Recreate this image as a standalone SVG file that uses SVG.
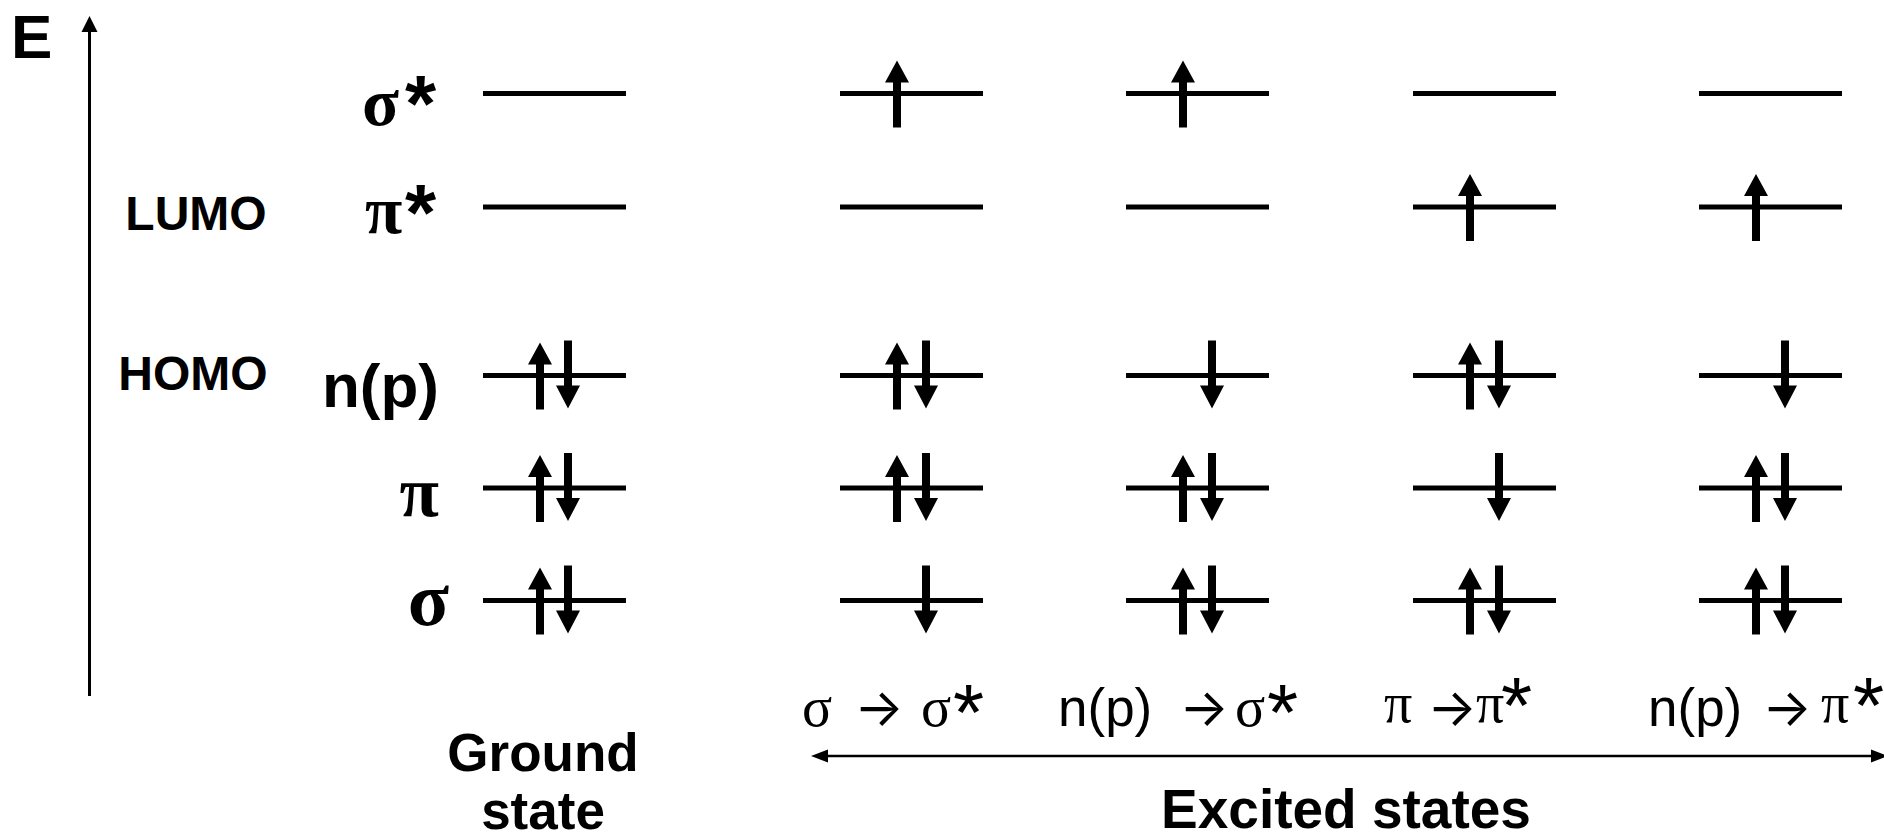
<svg xmlns="http://www.w3.org/2000/svg" width="1884" height="839" viewBox="0 0 1884 839">
<style>
.bar{fill:#000}
.sb{font-family:"Liberation Sans",Arial,sans-serif;font-weight:bold;fill:#000}
.gb{font-family:"Liberation Serif","Times New Roman",serif;font-weight:bold;fill:#000}
.sr{font-family:"Liberation Sans",Arial,sans-serif;fill:#000}
.gr{font-family:"Liberation Serif","Times New Roman",serif;fill:#000}
.ar{font-family:Inter,"DejaVu Sans",sans-serif;fill:#000;text-anchor:middle}
.ln{stroke:#000;fill:none}
</style>
<defs>
<path id="up" d="M0,-33 L12,-11 L4,-11 L4,34 L-4,34 L-4,-11 L-12,-11 Z"/>
<path id="dn" d="M0,33 L12,10 L4,10 L4,-35 L-4,-35 L-4,10 L-12,10 Z"/>
<rect id="bar" x="0" y="-2.5" width="143" height="5"/>
</defs>

<g id="connectors">
<line class="ln" x1="89.5" y1="696" x2="89.5" y2="28" stroke-width="3"/>
<polygon points="89.5,16 81.5,32 97.5,32"/>
<line class="ln" x1="822" y1="756" x2="1876" y2="756" stroke-width="2.5"/>
<polygon points="811,756 828,749.5 828,762.5"/>
<polygon points="1888,756 1871,749.5 1871,762.5"/>
</g>

<g id="labels">
<text class="sb" x="11" y="58" font-size="62">E</text>
<text class="sb" x="196" y="230" font-size="48" text-anchor="middle">LUMO</text>
<text class="sb" x="193" y="390" font-size="48" text-anchor="middle">HOMO</text>
<text class="gb" font-size="68"><tspan x="362" y="125">σ</tspan><tspan class="sb" x="405" y="131" font-size="80">*</tspan></text>
<text class="gb" font-size="68"><tspan x="365" y="233">π</tspan><tspan class="sb" x="405" y="240" font-size="80">*</tspan></text>
<text class="sb" x="439" y="407" font-size="62" text-anchor="end">n(p)</text>
<text class="gb" x="439" y="516" font-size="72" text-anchor="end">π</text>
<text class="gb" x="449" y="625" font-size="76" text-anchor="end">σ</text>
<text class="sb" x="543" y="771" font-size="53" text-anchor="middle">Ground</text>
<text class="sb" x="543" y="829" font-size="53" text-anchor="middle">state</text>
<text class="sb" x="1346" y="828" font-size="55" text-anchor="middle">Excited states</text>
</g>

<g id="transition-labels">
<text class="gr" font-size="56"><tspan x="802" y="726">σ</tspan><tspan class="ar" x="879" y="726" font-size="52">→</tspan><tspan x="921" y="726">σ</tspan><tspan class="sr" x="953" y="740" font-size="80">*</tspan></text>
<text class="sr" font-size="53"><tspan x="1058" y="726">n(p)</tspan><tspan class="ar" x="1204" y="726" font-size="52">→</tspan><tspan class="gr" x="1235" y="726" font-size="56">σ</tspan><tspan x="1267" y="740" font-size="80">*</tspan></text>
<text class="gr" font-size="56"><tspan x="1384" y="722">π</tspan><tspan class="ar" x="1452" y="726" font-size="52">→</tspan><tspan x="1476" y="722">π</tspan><tspan class="sr" x="1501" y="733" font-size="80">*</tspan></text>
<text class="sr" font-size="53"><tspan x="1648" y="726">n(p)</tspan><tspan class="ar" x="1787" y="726" font-size="52">→</tspan><tspan class="gr" x="1821" y="722" font-size="56">π</tspan><tspan x="1853" y="733" font-size="80">*</tspan></text>
</g>

<g id="ground-state" transform="translate(483,0)">
<use href="#bar" y="93.5"/><use href="#bar" y="207"/><use href="#bar" y="375.5"/><use href="#bar" y="488"/><use href="#bar" y="600.5"/>
<use href="#up" x="57" y="375.5"/><use href="#dn" x="85" y="375.5"/>
<use href="#up" x="57" y="488"/><use href="#dn" x="85" y="488"/>
<use href="#up" x="57" y="600.5"/><use href="#dn" x="85" y="600.5"/>
</g>

<g id="sigma-sigma-star" transform="translate(840,0)">
<use href="#bar" y="93.5"/><use href="#bar" y="207"/><use href="#bar" y="375.5"/><use href="#bar" y="488"/><use href="#bar" y="600.5"/>
<use href="#up" x="57" y="93.5"/>
<use href="#up" x="57" y="375.5"/><use href="#dn" x="86" y="375.5"/>
<use href="#up" x="57" y="488"/><use href="#dn" x="86" y="488"/>
<use href="#dn" x="86" y="600.5"/>
</g>

<g id="np-sigma-star" transform="translate(1126,0)">
<use href="#bar" y="93.5"/><use href="#bar" y="207"/><use href="#bar" y="375.5"/><use href="#bar" y="488"/><use href="#bar" y="600.5"/>
<use href="#up" x="57" y="93.5"/>
<use href="#dn" x="86" y="375.5"/>
<use href="#up" x="57" y="488"/><use href="#dn" x="86" y="488"/>
<use href="#up" x="57" y="600.5"/><use href="#dn" x="86" y="600.5"/>
</g>

<g id="pi-pi-star" transform="translate(1413,0)">
<use href="#bar" y="93.5"/><use href="#bar" y="207"/><use href="#bar" y="375.5"/><use href="#bar" y="488"/><use href="#bar" y="600.5"/>
<use href="#up" x="57" y="207"/>
<use href="#up" x="57" y="375.5"/><use href="#dn" x="86" y="375.5"/>
<use href="#dn" x="86" y="488"/>
<use href="#up" x="57" y="600.5"/><use href="#dn" x="86" y="600.5"/>
</g>

<g id="np-pi-star" transform="translate(1699,0)">
<use href="#bar" y="93.5"/><use href="#bar" y="207"/><use href="#bar" y="375.5"/><use href="#bar" y="488"/><use href="#bar" y="600.5"/>
<use href="#up" x="57" y="207"/>
<use href="#dn" x="86" y="375.5"/>
<use href="#up" x="57" y="488"/><use href="#dn" x="86" y="488"/>
<use href="#up" x="57" y="600.5"/><use href="#dn" x="86" y="600.5"/>
</g>
</svg>
